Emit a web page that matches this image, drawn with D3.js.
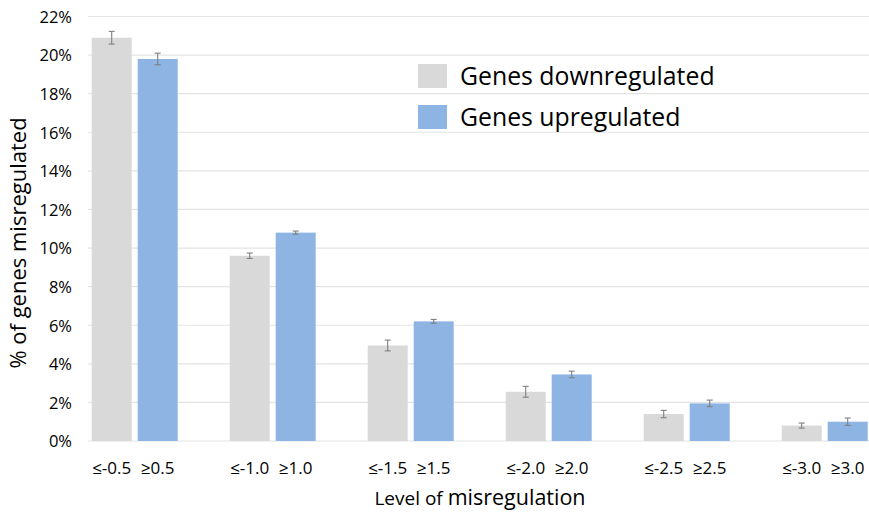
<!DOCTYPE html>
<html><head><meta charset="utf-8">
<script src="https://cdn.jsdelivr.net/npm/d3@7"></script>
<style>body{margin:0;background:#fff}svg{display:block}text{font-family:"Open Sans",sans-serif;fill:#000}</style>
</head><body><svg id="c" width="869" height="512"></svg>
<script>
const categories = ["0.5","1.0","1.5","2.0","2.5","3.0"];
const downLabels = ["≤-0.5","≤-1.0","≤-1.5","≤-2.0","≤-2.5","≤-3.0"];
const upLabels = ["≥0.5","≥1.0","≥1.5","≥2.0","≥2.5","≥3.0"];
const downValues = [20.9, 9.6, 4.95, 2.55, 1.4, 0.8];
const downErrors = [0.33, 0.14, 0.28, 0.28, 0.19, 0.13];
const upValues = [19.8, 10.8, 6.2, 3.45, 1.95, 1.0];
const upErrors = [0.3, 0.08, 0.1, 0.17, 0.17, 0.19];
const yTicks = [0,2,4,6,8,10,12,14,16,18,20,22];
const seriesNames = ["Genes downregulated","Genes upregulated"];
const colors = ["#d9d9d9","#8eb4e3"];

const svg = d3.select("#c");
const y = d3.scaleLinear().domain([0,22]).range([441,16.5]);
const x0 = d3.scaleBand().domain(categories).range([65.7,893.7]).paddingInner(0.3768).paddingOuter(0.1884);
const x1 = d3.scaleBand().domain([0,1]).range([0,x0.bandwidth()]).paddingInner(0.1304);

// gridlines
svg.append("g").selectAll("line").data(yTicks).join("line")
  .attr("x1",88).attr("x2",869).attr("y1",d=>y(d)).attr("y2",d=>y(d))
  .attr("stroke","#e3e3e3").attr("stroke-width",1.2);

// y axis labels
const yAxis = d3.axisLeft(y).tickValues(yTicks).tickFormat(d=>d+"%").tickSize(0).tickPadding(0);
const ga = svg.append("g").attr("transform","translate(72,0)").call(yAxis);
ga.select(".domain").remove();
ga.selectAll("text").style("font-family","'Open Sans',sans-serif").style("font-size","16.5px").attr("fill","#000").attr("dy","0.35em");

const data = categories.map((c,i)=>({c, vals:[{s:0,v:downValues[i],e:downErrors[i],l:downLabels[i]},{s:1,v:upValues[i],e:upErrors[i],l:upLabels[i]}]}));
const g = svg.append("g").selectAll("g").data(data).join("g").attr("transform",d=>`translate(${x0(d.c)},0)`);
g.selectAll("rect").data(d=>d.vals).join("rect")
  .attr("x",d=>x1(d.s)).attr("width",x1.bandwidth())
  .attr("y",d=>y(d.v)).attr("height",d=>y(0)-y(d.v)).attr("fill",d=>colors[d.s]);
// error bars
const eb = g.selectAll("g.eb").data(d=>d.vals).join("g").attr("class","eb")
  .attr("stroke","#7f7f7f").attr("stroke-width",1.1);
eb.append("line").attr("x1",d=>x1(d.s)+x1.bandwidth()/2).attr("x2",d=>x1(d.s)+x1.bandwidth()/2)
  .attr("y1",d=>y(d.v+d.e)).attr("y2",d=>y(d.v-d.e));
eb.append("line").attr("x1",d=>x1(d.s)+x1.bandwidth()/2-3).attr("x2",d=>x1(d.s)+x1.bandwidth()/2+3)
  .attr("y1",d=>y(d.v+d.e)).attr("y2",d=>y(d.v+d.e));
eb.append("line").attr("x1",d=>x1(d.s)+x1.bandwidth()/2-3).attr("x2",d=>x1(d.s)+x1.bandwidth()/2+3)
  .attr("y1",d=>y(d.v-d.e)).attr("y2",d=>y(d.v-d.e));
// x labels
g.selectAll("text").data(d=>d.vals).join("text")
  .attr("x",d=>x1(d.s)+x1.bandwidth()/2).attr("y",474).attr("text-anchor","middle")
  .style("font-size","17px").text(d=>d.l);

// axis titles
svg.append("text").attr("transform","translate(26,243) rotate(-90)").attr("text-anchor","middle")
  .style("font-size","22px").text("% of genes misregulated");
const xt = svg.append("text").attr("x",480).attr("y",505).attr("text-anchor","middle");
xt.append("tspan").style("font-size","19px").text("Level of ");
xt.append("tspan").style("font-size","21.5px").text("misregulation");

// legend
const lg = svg.append("g").selectAll("g").data(seriesNames).join("g")
  .attr("transform",(d,i)=>`translate(418,${64+i*41})`);
lg.append("rect").attr("width",29).attr("height",24).attr("fill",(d,i)=>colors[i]);
lg.append("text").attr("x",42).attr("y",21).style("font-size","24.8px").text(d=>d);
</script></body></html>
